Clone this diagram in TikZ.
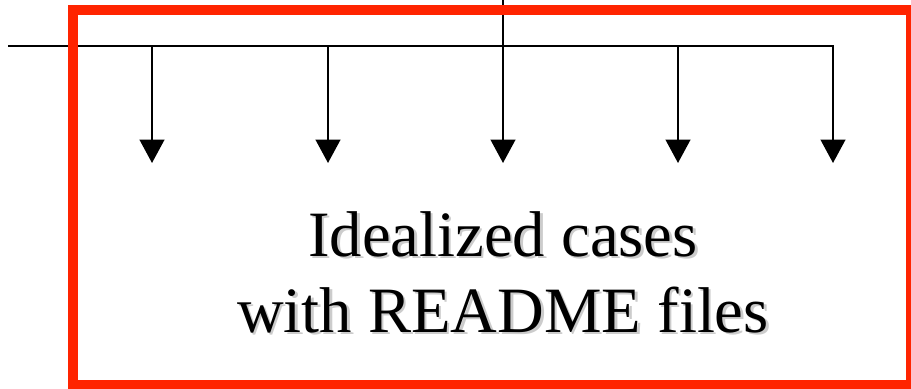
\documentclass[tikz,border=0pt]{standalone}
\usepackage{fontspec}
\setmainfont{Liberation Serif}
\usetikzlibrary{arrows.meta}

\definecolor{boxred}{RGB}{255,36,0}

% text with a soft grey drop shadow behind it
\newcommand{\shadowtext}[1]{%
  \rlap{\hspace{1.8pt}\raisebox{-1.8pt}{\textcolor{black!20}{#1}}}#1}

\tikzset{
  feed/.style={line width=1.5pt},
  drop/.style={feed, -{Triangle[width=18.5pt,length=17.5pt]}},
  casebox/.style={draw=boxred, line width=7.5pt},
  caption/.style={font=\fontsize{48.5}{57}\selectfont, inner sep=0pt, anchor=base}
}

\begin{document}
\begin{tikzpicture}[x=0.75pt,y=-0.75pt]
\useasboundingbox (0,0) rectangle (911,389);

% feed line and bus, the bus turning down at its right end
\coordinate (top) at (503,-5);
\coordinate (busL) at (8,46);
\coordinate (busR) at (833,46);
\coordinate (te) at (833,163);
\draw[drop] (busL) -- (busR) -- (te);
\draw[feed] (top) -- (503,46);

% drops into the box
\foreach \x/\n in {152/a,328/b,503/c,678/d}{
  \coordinate (s\n) at (\x,46);
  \coordinate (t\n) at (\x,163);
  \draw[drop] (s\n) -- (t\n);
}

\draw[casebox] (73,10) rectangle (911,385);

\node[caption] (line1) at (503,256) {\shadowtext{Idealized cases}};
\node[caption] (line2) at (503,332) {\shadowtext{with README files}};
\end{tikzpicture}
\end{document}
